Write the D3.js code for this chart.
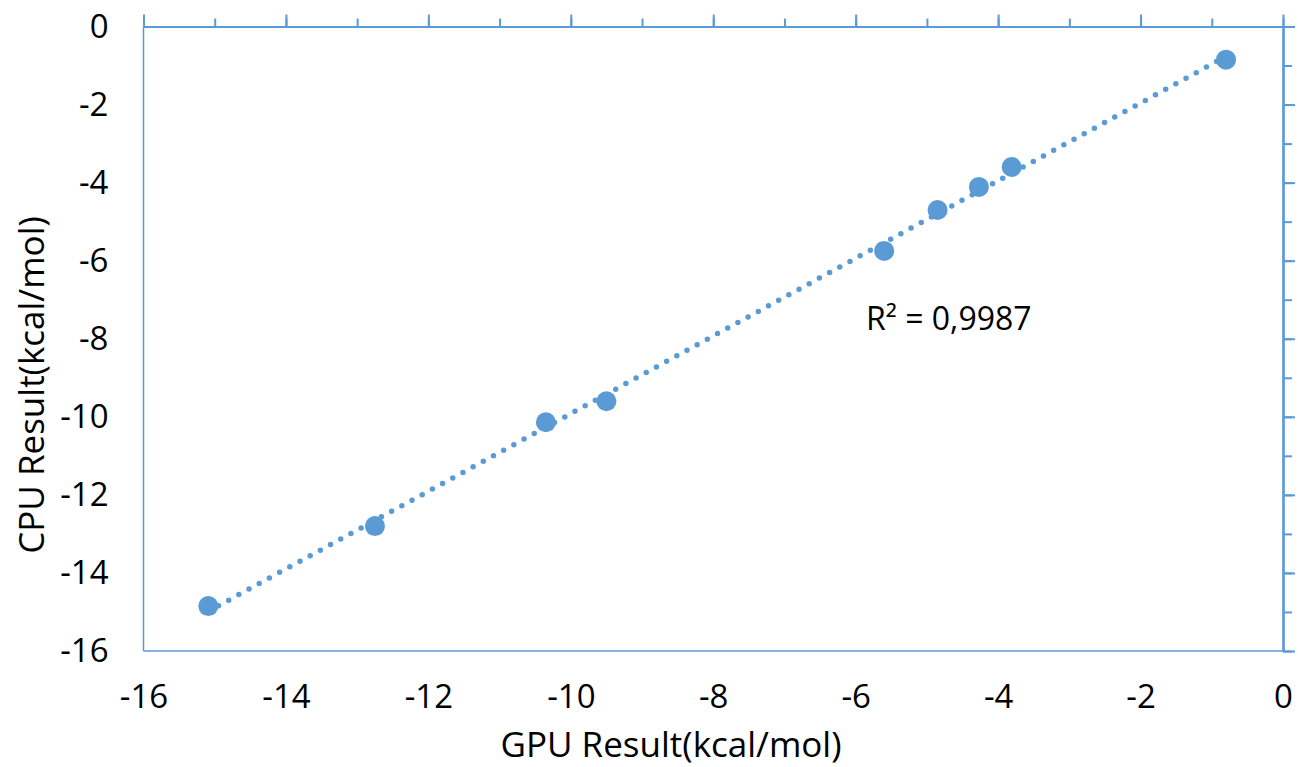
<!DOCTYPE html>
<html>
<head>
<meta charset="utf-8">
<script src="https://cdn.jsdelivr.net/npm/d3@7"></script>
<style>
  body { margin: 0; background: #fff; }
  text { font-family: "Open Sans", sans-serif; fill: #000; }
</style>
</head>
<body>
<svg width="1298" height="767"></svg>
<script>
// GPU vs CPU docking results (kcal/mol)
const gpu = [-15.09, -12.75, -10.35, -9.50, -5.60, -4.85, -4.27, -3.81, -0.80];
const cpu = [-14.85, -12.80, -10.14, -9.60, -5.75, -4.70, -4.11, -3.60, -0.85];
const majorTicks = [-16, -14, -12, -10, -8, -6, -4, -2, 0];
const minorTicks = d3.range(-16, 1, 1);
const r2Label = 'R² = 0,9987';

const blue = '#5b9bd5';
const svg = d3.select('svg');

const x = d3.scaleLinear().domain([-16, 0]).range([143.5, 1283]);
const y = d3.scaleLinear().domain([-16, 0]).range([651, 26.5]);

// plot border (left + bottom)
svg.append('line')
	.attr('x1', x(-16)).attr('x2', x(-16))
	.attr('y1', y(0)).attr('y2', y(-16))
	.attr('stroke', blue).attr('stroke-width', 1.5);
svg.append('line')
	.attr('x1', x(-16)).attr('x2', x(0))
	.attr('y1', y(-16)).attr('y2', y(-16))
	.attr('stroke', blue).attr('stroke-width', 1.5);

// axes crossing at zero: top and right
const styleAxis = (g) => {
	g.selectAll('path').attr('stroke', blue).attr('stroke-width', 2.2);
	g.selectAll('line').attr('stroke', blue).attr('stroke-width', 2);
	g.selectAll('text').remove();
};

svg.append('g')
	.attr('transform', `translate(0,${y(0)})`)
	.call(d3.axisTop(x).tickValues(minorTicks).tickSize(8).tickSizeOuter(0))
	.call(styleAxis);
svg.append('g')
	.attr('transform', `translate(0,${y(0)})`)
	.call(d3.axisTop(x).tickValues(majorTicks).tickSize(12).tickSizeOuter(0))
	.call(styleAxis);

svg.append('g')
	.attr('transform', `translate(${x(0)},0)`)
	.call(d3.axisRight(y).tickValues(minorTicks).tickSize(9).tickSizeOuter(0))
	.call(styleAxis);
svg.append('g')
	.attr('transform', `translate(${x(0)},0)`)
	.call(d3.axisRight(y).tickValues(majorTicks).tickSize(12).tickSizeOuter(0))
	.call(styleAxis);

// tick labels (low position), plain hyphen minus
const fmt = (d) => String(d);

const bottomLabels = svg.append('g')
	.attr('transform', `translate(0,${y(-16)})`)
	.call(d3.axisBottom(x).tickValues(majorTicks).tickSize(0).tickPadding(34).tickFormat(fmt));
bottomLabels.select('.domain').remove();
bottomLabels.selectAll('text')
	.attr('font-size', 33)
	.attr('font-family', '"Open Sans", sans-serif')
	.attr('fill', '#000');

const leftLabels = svg.append('g')
	.attr('transform', `translate(${x(-16)},0)`)
	.call(d3.axisLeft(y).tickValues(majorTicks).tickSize(0).tickPadding(35).tickFormat(fmt));
leftLabels.select('.domain').remove();
leftLabels.selectAll('text')
	.attr('font-size', 33)
	.attr('font-family', '"Open Sans", sans-serif')
	.attr('fill', '#000');

// linear trendline
const pts = gpu.map((v, i) => [v, cpu[i]]);
const mx = d3.mean(gpu), my = d3.mean(cpu);
const slope = d3.sum(pts, (p) => (p[0] - mx) * (p[1] - my)) / d3.sum(gpu, (v) => (v - mx) ** 2);
const icpt = my - slope * mx;
const [x0, x1] = d3.extent(gpu);

svg.append('line')
	.attr('x1', x(x0)).attr('y1', y(slope * x0 + icpt))
	.attr('x2', x(x1)).attr('y2', y(slope * x1 + icpt))
	.attr('stroke', blue)
	.attr('stroke-width', 5.5)
	.attr('stroke-linecap', 'round')
	.attr('stroke-dasharray', '0 11.6');

// points
svg.append('g')
	.selectAll('circle')
	.data(pts)
	.join('circle')
	.attr('cx', (d) => x(d[0]))
	.attr('cy', (d) => y(d[1]))
	.attr('r', 10)
	.attr('fill', blue);

svg.append('text')
	.attr('x', 866).attr('y', 330)
	.attr('font-size', 32)
	.text(r2Label);

// axis titles
svg.append('text')
	.attr('x', 671).attr('y', 757)
	.attr('text-anchor', 'middle')
	.attr('font-size', 35)
	.text('GPU Result(kcal/mol)');

svg.append('text')
	.attr('transform', 'translate(44,385) rotate(-90)')
	.attr('text-anchor', 'middle')
	.attr('font-size', 35)
	.text('CPU Result(kcal/mol)');
</script>
</body>
</html>
